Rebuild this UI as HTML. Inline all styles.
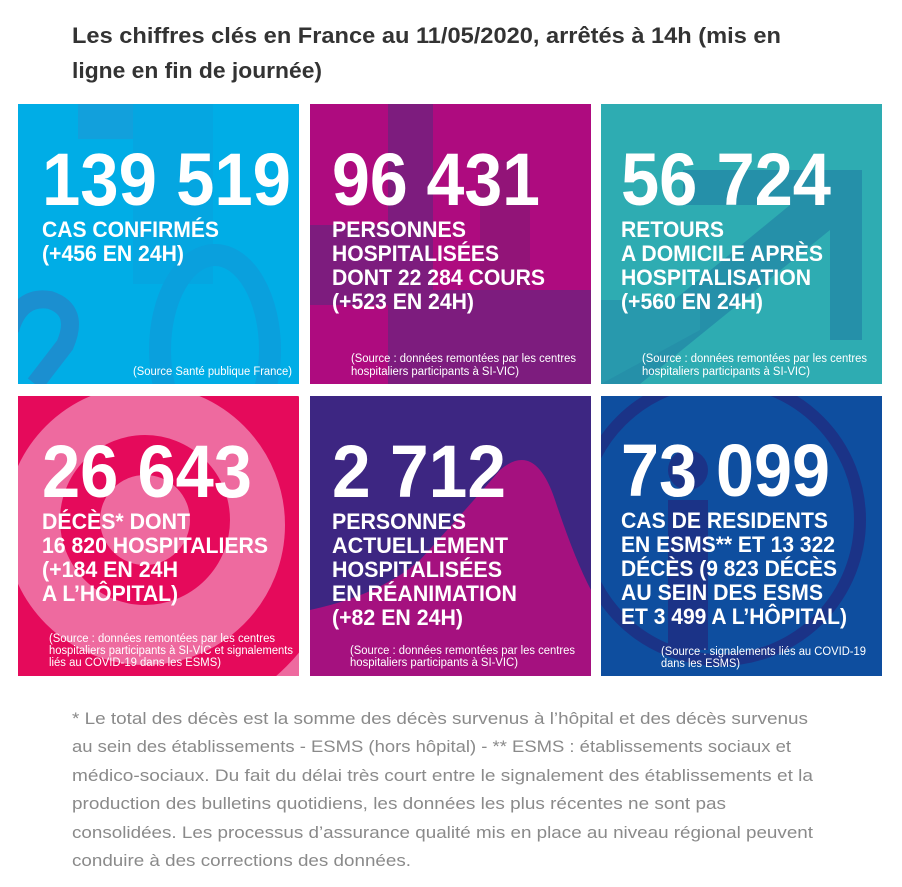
<!DOCTYPE html>
<html><head><meta charset="utf-8"><style>
html,body{margin:0;padding:0;background:#fff;}
svg{display:block}
.t{font-family:"Liberation Sans",sans-serif;font-weight:bold;fill:#333;font-size:22px}
.n{font-family:"Liberation Sans",sans-serif;font-weight:bold;fill:#fff;font-size:74px}
.l{font-family:"Liberation Sans Narrow","Liberation Sans",sans-serif;font-weight:bold;fill:#fff;font-size:22px}
.s{font-family:"Liberation Sans Narrow","Liberation Sans",sans-serif;fill:#fff;font-size:11.5px}
.f{font-family:"Liberation Sans",sans-serif;fill:#8a8a8a;font-size:17px}
</style></head><body>
<svg width="902" height="887" viewBox="0 0 902 887" xmlns="http://www.w3.org/2000/svg">
<defs>
<clipPath id="c1"><rect x="18" y="104" width="281" height="280"/></clipPath>
<clipPath id="c2"><rect x="310" y="104" width="281" height="280"/></clipPath>
<clipPath id="c3"><rect x="601" y="104" width="281" height="280"/></clipPath>
<clipPath id="c4"><rect x="18" y="396" width="281" height="280"/></clipPath>
<clipPath id="c5"><rect x="310" y="396" width="281" height="280"/></clipPath>
<clipPath id="c6"><rect x="601" y="396" width="281" height="280"/></clipPath>
</defs>
<text class="t" x="72" y="43" textLength="709" lengthAdjust="spacingAndGlyphs">Les chiffres clés en France au 11/05/2020, arrêtés à 14h (mis en</text>
<text class="t" x="72" y="78" textLength="250" lengthAdjust="spacingAndGlyphs">ligne en fin de journée)</text>

<!-- tile 1 -->
<g clip-path="url(#c1)">
<rect x="18" y="104" width="281" height="280" fill="#00ade6"/>
<rect x="78" y="104" width="55" height="35" fill="#12a0dc"/>
<rect x="133" y="104" width="80" height="180" fill="#05a6e1"/>
<path d="M10 330 Q20 295 50 300 Q80 310 65 345 L35 384" fill="none" stroke="#1b8fd0" stroke-width="18"/>
<ellipse cx="215" cy="350" rx="55" ry="95" fill="none" stroke="#0aa0dd" stroke-width="22"/>
</g>
<text class="n" x="42" y="205" textLength="249" lengthAdjust="spacingAndGlyphs">139 519</text>
<text class="l" x="42" y="237" textLength="177" lengthAdjust="spacingAndGlyphs">CAS CONFIRMÉS</text>
<text class="l" x="42" y="261" textLength="142" lengthAdjust="spacingAndGlyphs">(+456 EN 24H)</text>
<text class="s" x="133" y="375" textLength="159" lengthAdjust="spacingAndGlyphs">(Source Santé publique France)</text>

<!-- tile 2 -->
<g clip-path="url(#c2)">
<rect x="310" y="104" width="281" height="280" fill="#ae0b7f"/>
<rect x="388" y="104" width="45" height="280" fill="#7d1c7e"/>
<rect x="310" y="225" width="80" height="80" fill="#7d1c7e"/>
<rect x="433" y="290" width="158" height="94" fill="#7d1c7e"/>
<rect x="480" y="160" width="50" height="130" fill="#921478"/>
</g>
<text class="n" x="332" y="205" textLength="208" lengthAdjust="spacingAndGlyphs">96 431</text>
<text class="l" x="332" y="237" textLength="134" lengthAdjust="spacingAndGlyphs">PERSONNES</text>
<text class="l" x="332" y="261" textLength="167" lengthAdjust="spacingAndGlyphs">HOSPITALISÉES</text>
<text class="l" x="332" y="285" textLength="213" lengthAdjust="spacingAndGlyphs">DONT 22 284 COURS</text>
<text class="l" x="332" y="309" textLength="142" lengthAdjust="spacingAndGlyphs">(+523 EN 24H)</text>
<text class="s" x="351" y="362" textLength="225" lengthAdjust="spacingAndGlyphs">(Source : données remontées par les centres</text>
<text class="s" x="351" y="375" textLength="168" lengthAdjust="spacingAndGlyphs">hospitaliers participants à SI-VIC)</text>

<!-- tile 3 -->
<g clip-path="url(#c3)">
<rect x="601" y="104" width="281" height="280" fill="#2eacb2"/>
<polygon points="683,170 862,170 862,340 830,340 830,230 640,384 601,384 601,360 790,205 683,205" fill="#2590a9"/>
<polygon points="601,300 700,300 700,330 601,384" fill="#2899ad"/>
</g>
<text class="n" x="621" y="205" textLength="210" lengthAdjust="spacingAndGlyphs">56 724</text>
<text class="l" x="621" y="237" textLength="103" lengthAdjust="spacingAndGlyphs">RETOURS</text>
<text class="l" x="621" y="261" textLength="202" lengthAdjust="spacingAndGlyphs">A DOMICILE APRÈS</text>
<text class="l" x="621" y="285" textLength="190" lengthAdjust="spacingAndGlyphs">HOSPITALISATION</text>
<text class="l" x="621" y="309" textLength="142" lengthAdjust="spacingAndGlyphs">(+560 EN 24H)</text>
<text class="s" x="642" y="362" textLength="225" lengthAdjust="spacingAndGlyphs">(Source : données remontées par les centres</text>
<text class="s" x="642" y="375" textLength="168" lengthAdjust="spacingAndGlyphs">hospitaliers participants à SI-VIC)</text>

<!-- tile 4 -->
<g clip-path="url(#c4)">
<rect x="18" y="396" width="281" height="280" fill="#ee6a9f"/>
<circle cx="145" cy="525" r="170" fill="none" stroke="#e50a5b" stroke-width="60"/>
<circle cx="145" cy="520" r="65" fill="none" stroke="#e50a5b" stroke-width="40"/>
</g>
<text class="n" x="42" y="497" textLength="210" lengthAdjust="spacingAndGlyphs">26 643</text>
<text class="l" x="42" y="529" textLength="148" lengthAdjust="spacingAndGlyphs">DÉCÈS* DONT</text>
<text class="l" x="42" y="553" textLength="226" lengthAdjust="spacingAndGlyphs">16 820 HOSPITALIERS</text>
<text class="l" x="42" y="577" textLength="136" lengthAdjust="spacingAndGlyphs">(+184 EN 24H</text>
<text class="l" x="42" y="601" textLength="136" lengthAdjust="spacingAndGlyphs">A L’HÔPITAL)</text>
<text class="s" x="49" y="642" textLength="226" lengthAdjust="spacingAndGlyphs">(Source : données remontées par les centres</text>
<text class="s" x="49" y="654" textLength="244" lengthAdjust="spacingAndGlyphs">hospitaliers participants à SI-VIC et signalements</text>
<text class="s" x="49" y="666" textLength="172" lengthAdjust="spacingAndGlyphs">liés au COVID-19 dans les ESMS)</text>

<!-- tile 5 -->
<g clip-path="url(#c5)">
<rect x="310" y="396" width="281" height="280" fill="#3d2682"/>
<path d="M310 610 Q380 595 420 560 Q470 505 500 470 Q535 440 555 500 Q575 560 591 590 L591 676 L310 676 Z" fill="#a5117f"/>
</g>
<text class="n" x="332" y="497" textLength="174" lengthAdjust="spacingAndGlyphs">2 712</text>
<text class="l" x="332" y="529" textLength="134" lengthAdjust="spacingAndGlyphs">PERSONNES</text>
<text class="l" x="332" y="553" textLength="176" lengthAdjust="spacingAndGlyphs">ACTUELLEMENT</text>
<text class="l" x="332" y="577" textLength="170" lengthAdjust="spacingAndGlyphs">HOSPITALISÉES</text>
<text class="l" x="332" y="601" textLength="185" lengthAdjust="spacingAndGlyphs">EN RÉANIMATION</text>
<text class="l" x="332" y="625" textLength="131" lengthAdjust="spacingAndGlyphs">(+82 EN 24H)</text>
<text class="s" x="350" y="654" textLength="225" lengthAdjust="spacingAndGlyphs">(Source : données remontées par les centres</text>
<text class="s" x="350" y="666" textLength="168" lengthAdjust="spacingAndGlyphs">hospitaliers participants à SI-VIC)</text>

<!-- tile 6 -->
<g clip-path="url(#c6)">
<rect x="601" y="396" width="281" height="280" fill="#0e4e9f"/>
<circle cx="720" cy="520" r="140" fill="none" stroke="#1b3387" stroke-width="12"/>
<circle cx="688" cy="470" r="20" fill="#1b3387"/>
<rect x="668" y="500" width="40" height="150" fill="#1b3387"/>
</g>
<text class="n" x="621" y="496" textLength="209" lengthAdjust="spacingAndGlyphs">73 099</text>
<text class="l" x="621" y="528" textLength="207" lengthAdjust="spacingAndGlyphs">CAS DE RESIDENTS</text>
<text class="l" x="621" y="552" textLength="214" lengthAdjust="spacingAndGlyphs">EN ESMS** ET 13 322</text>
<text class="l" x="621" y="576" textLength="216" lengthAdjust="spacingAndGlyphs">DÉCÈS (9 823 DÉCÈS</text>
<text class="l" x="621" y="600" textLength="202" lengthAdjust="spacingAndGlyphs">AU SEIN DES ESMS</text>
<text class="l" x="621" y="624" textLength="226" lengthAdjust="spacingAndGlyphs">ET 3 499 A L’HÔPITAL)</text>
<text class="s" x="661" y="655" textLength="205" lengthAdjust="spacingAndGlyphs">(Source : signalements liés au COVID-19</text>
<text class="s" x="661" y="667" textLength="79" lengthAdjust="spacingAndGlyphs">dans les ESMS)</text>

<!-- footnote -->
<text class="f" x="72" y="724" textLength="736" lengthAdjust="spacingAndGlyphs">* Le total des décès est la somme des décès survenus à l’hôpital et des décès survenus</text>
<text class="f" x="72" y="752" textLength="719" lengthAdjust="spacingAndGlyphs">au sein des établissements - ESMS (hors hôpital) - ** ESMS : établissements sociaux et</text>
<text class="f" x="72" y="781" textLength="741" lengthAdjust="spacingAndGlyphs">médico-sociaux. Du fait du délai très court entre le signalement des établissements et la</text>
<text class="f" x="72" y="809" textLength="654" lengthAdjust="spacingAndGlyphs">production des bulletins quotidiens, les données les plus récentes ne sont pas</text>
<text class="f" x="72" y="838" textLength="741" lengthAdjust="spacingAndGlyphs">consolidées. Les processus d’assurance qualité mis en place au niveau régional peuvent</text>
<text class="f" x="72" y="866" textLength="339" lengthAdjust="spacingAndGlyphs">conduire à des corrections des données.</text>
</svg>
</body></html>
